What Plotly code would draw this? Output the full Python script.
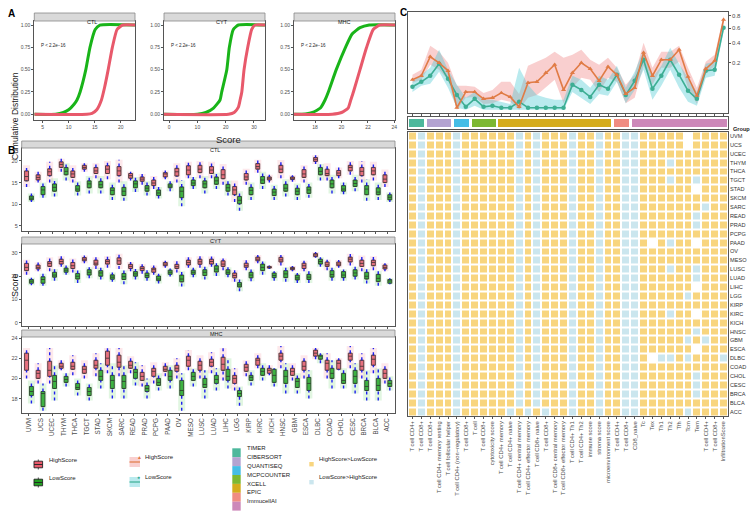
import numpy as np
import plotly.graph_objects as go

W, H = 750, 518

CANCERS = ["UVM", "UCS", "UCEC", "THYM", "THCA", "TGCT", "STAD", "SKCM", "SARC", "READ",
           "PRAD", "PCPG", "PAAD", "OV", "MESO", "LUSC", "LUAD", "LIHC", "LGG", "KIRP",
           "KIRC", "KICH", "HNSC", "GBM", "ESCA", "DLBC", "COAD", "CHOL", "CESC", "BRCA",
           "BLCA", "ACC"]

# ---- panel A: cumulative distributions
CTL_LOW_X = [3.4, 7.5, 9.0, 10.0, 11.0, 11.6, 12.2, 13.3, 14.1, 15.1, 16.0, 22.75]
CTL_LOW_F = [0, 0, 0.02, 0.05, 0.11, 0.16, 0.25, 0.5, 0.75, 0.95, 1, 1]
CTL_HIGH_X = [3.4, 13.5, 14.5, 15.4, 16.3, 16.9, 17.6, 18.4, 19.3, 20.4, 22.75]
CTL_HIGH_F = [0, 0, 0.01, 0.05, 0.16, 0.3, 0.5, 0.75, 0.95, 1, 1]
CYT_LOW_X = [-1.8, 10, 13, 15.7, 18.0, 18.6, 20.4, 21.3, 22.7, 24.5, 33.9]
CYT_LOW_F = [0, 0, 0.02, 0.07, 0.16, 0.25, 0.5, 0.75, 0.95, 1, 1]
CYT_HIGH_X = [-1.8, 21.0, 23.0, 24.5, 25.1, 25.7, 26.5, 27.8, 29.2, 30.4, 33.9]
CYT_HIGH_F = [0, 0, 0.02, 0.08, 0.16, 0.25, 0.5, 0.75, 0.95, 1, 1]
MHC_LOW_X = [16.4, 17.0, 17.8, 18.4, 18.75, 19.0, 19.6, 20.3, 20.8, 21.4, 22.1, 24.05]
MHC_LOW_F = [0, 0, 0.02, 0.07, 0.16, 0.25, 0.5, 0.75, 0.9, 0.97, 1, 1]
MHC_HIGH_X = [16.4, 19.3, 20.0, 20.5, 20.7, 20.9, 21.4, 21.9, 22.4, 22.9, 24.05]
MHC_HIGH_F = [0, 0, 0.02, 0.07, 0.16, 0.25, 0.5, 0.75, 0.95, 1, 1]

# ---- panel B: box statistics per cancer (lo whisker, q1, median, q3, hi whisker)
CTL_H_LO = [14.0, 15.0, 15.0, 17.5, 15.0, 17.5, 16.0, 15.8, 15.0, 15.5, 14.5, 13.5, 15.8, 15.0, 16.0, 16.0, 16.0, 14.5, 10.5, 14.5, 17.3, 15.0, 16.0, 15.2, 15.0, 19.3, 15.5, 16.0, 16.8, 15.0, 15.5, 14.0]
CTL_H_Q1 = [15.4, 15.6, 16.6, 18.5, 16.2, 18.1, 17.1, 17.1, 16.6, 16.0, 15.3, 14.3, 16.3, 16.5, 16.8, 17.3, 17.1, 15.9, 12.2, 15.6, 18.1, 15.6, 17.3, 15.7, 16.2, 19.9, 16.6, 16.6, 17.7, 16.6, 16.8, 15.0]
CTL_H_MED = [16.4, 16.2, 17.5, 19.2, 17.0, 18.5, 17.7, 18.1, 17.7, 16.6, 15.8, 14.9, 17.0, 17.5, 17.9, 18.1, 17.9, 16.8, 13.3, 16.3, 18.7, 16.0, 18.1, 16.0, 17.0, 20.4, 17.1, 17.2, 18.5, 17.6, 17.7, 15.8]
CTL_H_Q3 = [17.7, 16.8, 18.2, 19.8, 17.7, 19.0, 18.5, 18.9, 18.7, 17.1, 16.3, 15.6, 17.3, 18.3, 18.9, 19.0, 18.7, 18.0, 14.1, 17.1, 19.4, 16.3, 19.0, 16.3, 18.0, 20.8, 18.1, 17.8, 19.0, 18.5, 18.5, 16.8]
CTL_H_HI = [19.0, 17.5, 19.8, 20.5, 19.0, 19.5, 19.5, 20.0, 20.3, 17.5, 17.0, 16.5, 17.8, 19.5, 19.8, 20.0, 19.8, 19.3, 15.5, 18.2, 20.3, 16.8, 20.2, 16.7, 19.0, 21.3, 19.5, 18.5, 20.0, 20.0, 19.8, 18.0]
CTL_L_LO = [10.5, 11.5, 11.8, 15.5, 12.0, 12.5, 12.5, 11.0, 10.8, 12.8, 12.0, 11.3, 13.0, 9.5, 13.5, 12.5, 13.5, 12.0, 8.5, 11.0, 13.5, 11.0, 11.8, 11.0, 11.5, 15.5, 12.5, 12.3, 13.0, 10.8, 11.0, 10.5]
CTL_L_Q1 = [11.0, 12.2, 13.0, 16.8, 13.0, 13.8, 13.8, 12.2, 12.0, 13.8, 13.0, 12.0, 13.8, 11.5, 14.3, 13.8, 14.6, 13.0, 10.1, 12.2, 14.8, 12.0, 13.0, 12.2, 12.5, 16.8, 13.8, 13.0, 14.1, 12.2, 12.2, 11.0]
CTL_L_MED = [11.4, 13.3, 13.9, 17.6, 13.5, 14.7, 14.5, 13.2, 13.0, 14.7, 13.7, 12.6, 14.2, 13.0, 14.9, 14.7, 15.4, 13.8, 10.9, 13.2, 15.6, 12.8, 13.7, 13.0, 13.3, 17.6, 14.7, 13.5, 14.8, 13.5, 12.8, 11.6]
CTL_L_Q3 = [11.9, 14.1, 14.7, 18.5, 14.3, 15.4, 15.3, 13.8, 13.9, 15.4, 14.3, 13.3, 14.7, 14.0, 15.6, 15.4, 16.3, 14.6, 11.8, 13.9, 16.4, 13.5, 14.6, 13.7, 14.0, 18.5, 15.6, 14.3, 15.6, 14.3, 13.8, 12.2]
CTL_L_HI = [12.5, 15.0, 16.0, 19.5, 15.3, 16.5, 16.5, 15.0, 15.3, 16.3, 15.3, 14.0, 15.3, 15.5, 16.3, 16.5, 17.3, 15.5, 13.0, 15.0, 17.5, 14.5, 15.8, 14.8, 15.0, 19.3, 16.8, 15.0, 16.8, 15.8, 15.0, 12.7]

CYT_H_LO = [20.5, 22.0, 22.0, 24.0, 21.5, 25.5, 23.0, 23.5, 23.0, 22.0, 21.0, 20.5, 23.5, 21.5, 23.5, 23.5, 24.0, 22.5, 17.5, 22.5, 25.5, 23.0, 24.5, 22.0, 22.0, 27.8, 22.5, 23.5, 24.5, 22.0, 22.5, 22.0]
CYT_H_Q1 = [22.3, 23.0, 24.1, 25.1, 23.2, 26.5, 24.7, 25.1, 25.0, 23.2, 22.3, 21.6, 24.4, 23.2, 24.7, 25.0, 25.1, 24.1, 19.2, 23.7, 26.5, 23.4, 26.0, 22.7, 23.2, 28.3, 24.1, 24.4, 26.0, 24.1, 24.4, 23.0]
CYT_H_MED = [23.7, 23.7, 25.4, 26.2, 24.4, 27.2, 25.5, 26.2, 26.5, 24.1, 23.2, 22.7, 25.1, 24.0, 25.8, 26.1, 26.2, 25.1, 20.2, 24.4, 27.2, 23.7, 26.9, 23.2, 24.4, 29.0, 24.8, 25.1, 27.2, 25.4, 25.8, 23.7]
CYT_H_Q3 = [25.4, 24.7, 26.2, 27.2, 25.8, 27.9, 26.8, 27.0, 27.8, 25.0, 24.0, 23.4, 25.8, 25.0, 26.8, 27.2, 27.2, 26.5, 21.3, 25.5, 28.1, 24.1, 28.0, 23.7, 25.5, 29.6, 26.0, 26.0, 28.1, 26.8, 26.8, 24.7]
CYT_H_HI = [27.0, 25.8, 28.0, 28.5, 27.5, 28.8, 28.0, 28.5, 29.5, 26.0, 25.0, 24.5, 26.5, 26.5, 28.0, 28.5, 28.3, 27.5, 22.5, 26.8, 29.0, 24.5, 29.0, 24.3, 26.5, 30.3, 27.0, 26.8, 29.5, 28.8, 28.5, 25.5]
CYT_L_LO = [16.0, 15.8, 18.0, 20.5, 17.0, 19.0, 18.5, 17.5, 16.5, 18.5, 18.0, 16.8, 19.8, 15.5, 19.5, 18.5, 20.0, 19.5, 13.5, 17.8, 20.5, 18.0, 17.5, 17.0, 17.0, 24.0, 18.0, 18.0, 18.5, 16.8, 15.8, 16.5]
CYT_L_Q1 = [16.9, 16.9, 19.5, 21.6, 18.7, 20.4, 19.9, 18.6, 18.5, 19.9, 19.3, 18.0, 20.7, 17.5, 20.7, 20.2, 21.7, 20.7, 15.3, 19.2, 22.3, 19.3, 19.3, 18.3, 18.5, 25.1, 19.5, 19.3, 19.9, 18.7, 17.6, 16.9]
CYT_L_MED = [17.8, 18.5, 20.4, 22.5, 19.9, 21.6, 21.3, 19.5, 19.7, 20.9, 20.2, 18.7, 21.6, 18.7, 21.6, 21.6, 23.0, 21.6, 16.2, 20.4, 23.7, 20.2, 20.9, 19.2, 19.5, 26.2, 20.6, 20.4, 21.3, 19.9, 19.0, 17.9]
CYT_L_Q3 = [18.5, 19.7, 21.6, 23.4, 21.1, 22.7, 22.3, 20.5, 21.1, 21.9, 21.3, 20.0, 22.5, 20.4, 22.5, 22.7, 24.4, 22.7, 17.2, 21.6, 25.1, 21.3, 22.3, 20.4, 20.7, 27.2, 22.3, 21.9, 22.7, 21.6, 20.7, 18.5]
CYT_L_HI = [19.2, 21.0, 23.0, 24.5, 22.5, 23.8, 23.5, 21.5, 22.5, 23.0, 22.5, 21.0, 23.2, 22.0, 23.5, 24.0, 25.5, 23.8, 18.5, 22.8, 26.2, 22.0, 23.8, 21.3, 22.0, 28.0, 23.5, 22.8, 24.0, 23.0, 22.3, 19.0]

MHC_H_LO = [20.0, 19.5, 19.5, 20.8, 20.3, 20.0, 20.2, 20.5, 20.2, 20.5, 19.2, 19.5, 20.2, 20.0, 20.8, 20.0, 20.5, 19.8, 18.8, 20.2, 21.0, 20.3, 21.0, 19.8, 20.0, 21.9, 20.0, 20.8, 21.0, 20.0, 20.5, 19.5]
MHC_H_Q1 = [20.8, 20.0, 20.2, 21.0, 20.9, 20.5, 21.0, 21.3, 21.1, 21.0, 19.8, 20.2, 20.7, 20.7, 21.2, 20.8, 21.2, 20.8, 19.5, 20.7, 21.3, 20.5, 21.8, 20.3, 20.8, 22.2, 20.8, 20.9, 21.8, 20.8, 21.3, 20.0]
MHC_H_MED = [21.8, 20.5, 20.8, 21.2, 21.2, 20.9, 21.3, 22.0, 21.6, 21.3, 20.2, 20.7, 20.9, 21.0, 21.8, 21.3, 21.6, 21.4, 20.0, 21.1, 21.8, 20.8, 22.2, 20.7, 21.2, 22.5, 21.5, 21.5, 22.2, 21.2, 21.9, 20.5]
MHC_H_Q3 = [22.5, 20.8, 21.7, 21.5, 21.6, 21.2, 21.8, 22.7, 22.3, 21.7, 20.6, 21.0, 21.2, 21.3, 22.2, 21.7, 21.9, 22.1, 20.3, 21.4, 22.0, 21.0, 22.5, 21.0, 21.7, 22.8, 21.8, 21.8, 22.5, 21.8, 22.3, 20.9]
MHC_H_HI = [23.0, 21.5, 23.0, 21.8, 22.3, 21.8, 22.5, 23.0, 23.0, 22.2, 21.3, 21.6, 21.6, 22.0, 22.8, 22.3, 22.6, 23.0, 21.0, 21.8, 22.5, 21.3, 23.2, 21.5, 22.3, 23.0, 22.5, 22.0, 23.2, 22.5, 23.0, 21.5]
MHC_L_LO = [17.5, 16.8, 17.8, 19.2, 18.3, 17.8, 19.0, 18.0, 18.0, 19.3, 18.0, 18.8, 19.0, 16.8, 19.2, 18.0, 18.8, 19.0, 17.3, 19.3, 19.8, 19.2, 18.5, 18.5, 18.0, 21.5, 19.0, 19.0, 18.5, 17.8, 17.8, 18.8]
MHC_L_Q1 = [18.3, 17.2, 19.0, 19.6, 18.9, 18.3, 19.8, 19.0, 19.0, 20.0, 18.7, 19.3, 19.8, 18.3, 19.8, 19.1, 19.5, 19.8, 18.2, 19.8, 20.3, 19.6, 19.5, 19.1, 18.8, 21.9, 20.0, 19.5, 19.5, 18.8, 18.8, 19.2]
MHC_L_MED = [18.7, 18.5, 19.7, 19.9, 19.1, 18.7, 20.2, 19.8, 19.7, 20.6, 19.0, 19.6, 20.2, 18.8, 20.2, 19.4, 19.9, 20.2, 18.5, 20.1, 20.7, 20.3, 20.2, 19.7, 19.5, 22.2, 20.5, 19.8, 20.2, 19.2, 19.3, 19.5]
MHC_L_Q3 = [19.2, 18.7, 20.3, 20.2, 19.5, 19.1, 20.8, 20.3, 20.3, 20.9, 19.3, 20.0, 20.8, 19.8, 20.6, 20.0, 20.3, 20.9, 18.8, 20.3, 21.0, 20.9, 20.8, 20.0, 20.1, 22.3, 21.0, 20.5, 20.8, 19.8, 20.0, 19.8]
MHC_L_HI = [19.8, 19.5, 21.3, 20.5, 20.0, 19.5, 21.5, 21.5, 21.3, 21.6, 20.0, 20.5, 21.3, 20.5, 21.0, 20.8, 21.0, 22.0, 19.2, 20.8, 21.5, 21.0, 21.5, 20.5, 20.8, 22.5, 21.8, 21.0, 21.5, 20.8, 21.0, 20.2]

# ---- panel C
CELLS = ["T cell CD4+", "T cell CD8+", "T cell CD8+", "T cell CD4+ memory resting",
         "T cell follicular helper", "T cell CD4+ (non\u2212regulatory)", "T cell CD8+", "T cell",
         "T cell CD8+", "cytotoxicity score", "T cell CD4+ memory", "T cell CD4+ naive",
         "T cell CD4+ central memory", "T cell CD4+ effector memory", "T cell CD8+ naive",
         "T cell CD8+", "T cell CD8+ central memory", "T cell CD8+ effector memory",
         "T cell CD4+ Th1", "T cell CD4+ Th2", "immune score", "stroma score",
         "microenvironment score", "T cell CD4+", "T cell CD8+", "CD8_naive", "Tc", "Tex",
         "Th1", "Th2", "Tfh", "Tcm", "Tem", "T cell CD4+", "T cell CD8+", "InfiltrationScore"]
GROUPS = ["TIMER", "CIBERSORT", "QUANTISEQ", "MCPCOUNTER", "XCELL", "EPIC", "ImmucellAI"]
GROUP_SIZES = [2, 3, 2, 3, 13, 2, 11]
GROUP_COLORS = ["#4DB89C", "#B3A3D1", "#45BDE6", "#7DB832", "#D5AC1C", "#F08C82", "#CD88B9"]

HIGH_MEAN = [.082, .105, .255, .200, .138, .0004, .029, .029, .011, .013, .026, .015, .0008, .066, .071, .124, .184, .036,
             .124, .200, .152, .076, .168, .111, .023, .044, .295, .105, .227, .227, .327, .099, .018, .152, .218, .735]
HIGH_UP = [.111, .145, .372, .305, .200, .052, .052, .048, .026, .036, .071, .071, .023, .176, .209, .245, .305, .245,
           .274, .327, .227, .184, .245, .160, .057, .111, .407, .160, .305, .305, .372, .160, .044, .209, .274, .801]
HIGH_LOW = [.066, .082, .184, .145, .082, 0, .013, .015, .003, .004, .009, .006, 0, .013, .020, .044, .082, .004,
            .044, .093, .082, .029, .093, .071, .004, .013, .176, .057, .160, .160, .209, .044, .003, .118, .176, .687]
LOW_MEAN = [.048, .071, .105, .192, .087, .020, .0008, .011, .0008, .0015, .0004, .0004, .006, .0004, .0004, .0004, .0004, .0004,
            .057, .036, .015, .057, .040, .111, .020, .076, .227, .040, .105, .227, .111, .033, .011, .138, .145, .610]
LOW_UP = [.071, .111, .160, .327, .145, .057, .013, .029, .009, .009, .006, .003, .160, .057, .020, .013, .009, .009,
          .105, .082, .044, .105, .082, .176, .044, .131, .327, .093, .176, .349, .192, .093, .029, .192, .209, .671]
LOW_LOW = [.029, .052, .061, .131, .044, .0004, 0, .0015, 0, 0, 0, 0, 0, 0, 0, 0, 0, 0,
           .029, .013, .003, .023, .018, .071, .004, .036, .145, .009, .052, .145, .044, .006, .0015, .093, .105, .552]

# H = HighScore>LowScore, L = LowScore>HighScore, N = not available
HEAT_ROWS = [
    "HLHHHLHHHHHHLHLHHHLHHLHHLLH" + "HHHHNHHHH",  # UVM
    "HLHHHLHHHHHHLHLHHHLHHLHHLLH" + "HHHHNHHHH",  # UCS
    "HLHHHLHHHHHHLHLHHHLHHLHHLLH" + "HHHHHHHHH",  # UCEC
    "HLHHHLHHHHHHLHLHHHLHHLHHLLH" + "HHLHHHHHH",  # THYM
    "HLHHHLHHHHHHLHLHHHLHHLHHLLH" + "HHHHHHHHH",  # THCA
    "HLHHHLHHHHHHLHLHHHLHHLHHLLH" + "HHLHHLHHH",  # TGCT
    "HLHHHLHHHHHHLHLHHHLHHLHHLLH" + "HHHHHNHHH",  # STAD
    "HLHHHLHHHHHHLHLHHHLHHLHHLLH" + "HHHHHHHHH",  # SKCM
    "HLHHHLHHHHHHLHLHHHLHHLHHLLH" + "HHHHHHLHH",  # SARC
    "HLHHHLHHHHHHLHLHHHLHHLHHLLH" + "HHHHHLHHH",  # READ
    "HLHHHLHHHHHHLHLHHHLHHLHHLLH" + "HHHHHLHHH",  # PRAD
    "HLHHHLHHHHHHLHLHHHLHHLHHLLH" + "HHHHHHHHH",  # PCPG
    "HLHHHLHHHHHHLHLHHHLHHLHHLLH" + "NHLHHNHHH",  # PAAD
    "HLHHHLHHHHHHLHLHHHLHHLHHLLH" + "HHHHHHHHH",  # OV
    "HLHHHLHHHHHHLHLHHHLHHLHHLLH" + "HHHHHHHHH",  # MESO
    "HLHHHLHHHHHHLHLHHHLHHLHHLLH" + "HHLHHLHHH",  # LUSC
    "HLHHHLHHHHHHLHLHHHLHHLHHLLH" + "HHHHHLHHH",  # LUAD
    "HLHHHLHHHHHHLHLHHHLHHLHHLLH" + "HHHHHNHHH",  # LIHC
    "HLHHHLHHHHHHLHLHHHLHHLHHLLH" + "HHHHLHHHH",  # LGG
    "HLHHHLHHHHHHLHLHHHLHHLHHLLH" + "HHHHHHHHH",  # KIRP
    "HLHHHLHHHHHHLHLHHHLHHLHHLLH" + "HHLHHNHHH",  # KIRC
    "HLHHHLHHHHHHLHLHHHLHHLHHLLH" + "HHHHHHHHH",  # KICH
    "HLHHHLHHHHHHLHLHHHLHHLHHLLH" + "HHHHHLHHH",  # HNSC
    "HLHHHLHHHHHHLHLHHHLHHLHHLLH" + "HHHHLHLHH",  # GBM
    "HLHHHLHHHHHHLHLHHHLHHLHHLLH" + "HHHHHNHHH",  # ESCA
    "HLHHHLHHHHHHLHLHHHLHHLHHLLH" + "NLLHLHHHL",  # DLBC
    "HLHHHLHHHHHHLHLHHHLHHLHHLLH" + "HHHHHHHHH",  # COAD
    "HLHHHLHHHHHHLHLHHHLHHLHHLLH" + "HHHHHLHHH",  # CHOL
    "HLHHHLHHHHHHLHLHHHLHHLHHLLH" + "HHHHHLHHH",  # CESC
    "HLHHHLHHHHHHLHLHHHLHHLHHLLH" + "HHHHHLHHH",  # BRCA
    "HLHHHLHHHHHHLHLHHHLHHLHHLLH" + "HHHHHHHHH",  # BLCA
    "HLHHHLHHHHHLHLHLHHLHHLHHLLH" + "HHHHLHHHH",  # ACC
]

RED = "#E8596B"
GREEN = "#19B419"
ORANGE = "#E07B45"
TEAL = "#3DAE94"
YELLOW = "#F8D57E"
LIGHTBLUE = "#CBE6EE"
FONT = "Liberation Sans, Arial"


def xd(a, b):
    return [a / W, b / W]


def yd(top, bottom):
    return [1 - bottom / H, 1 - top / H]


def px(x):
    return x / W


def py(y):
    return 1 - y / H


def ax(domain, anchor, **kw):
    d = dict(domain=domain, anchor=anchor, showline=True, mirror=True, linecolor="#555",
             linewidth=0.8, ticks="outside", ticklen=2, tickwidth=0.6, tickcolor="#555",
             showgrid=False, zeroline=False, automargin=False,
             tickfont=dict(size=5, color="#4D4D4D"))
    d.update(kw)
    return d


fig = go.Figure()
layout = {}
shapes = []
annotations = []

# ---------------- panel A
A_TOP, A_BOTTOM = 21, 120
a_panels = [
    ("CTL", 34.3, 135, [3.4, 22.75], [5, 10, 15, 20], CTL_LOW_X, CTL_LOW_F, CTL_HIGH_X, CTL_HIGH_F),
    ("CYT", 164, 265, [-1.8, 33.9], [0, 10, 20, 30], CYT_LOW_X, CYT_LOW_F, CYT_HIGH_X, CYT_HIGH_F),
    ("MHC", 294, 395, [16.4, 24.05], [18, 20, 22, 24], MHC_LOW_X, MHC_LOW_F, MHC_HIGH_X, MHC_HIGH_F),
]
for i, (name, x0, x1, xr, xt, lx, lf, hx, hf) in enumerate(a_panels, start=1):
    s = "" if i == 1 else str(i)
    layout["xaxis" + s] = ax(xd(x0, x1), "y" + s, range=xr, tickvals=xt)
    layout["yaxis" + s] = ax(yd(A_TOP, A_BOTTOM), "x" + s, range=[-0.064, 1.045],
                             tickvals=[0, 0.25, 0.5, 0.75, 1],
                             ticktext=["0.00", "0.25", "0.50", "0.75", "1.00"])
    for xs, fs, col in [(lx, lf, GREEN), (hx, hf, RED)]:
        fig.add_trace(go.Scatter(x=xs, y=fs, mode="lines", xaxis="x" + s, yaxis="y" + s,
                                 line=dict(color=col, width=3, shape="spline", smoothing=0.5),
                                 hoverinfo="skip", showlegend=False))
    shapes.append(dict(type="rect", xref="paper", yref="paper", x0=px(x0), x1=px(x1),
                       y0=py(A_TOP), y1=py(13), fillcolor="#D9D9D9", line=dict(color="#888", width=0.8)))
    annotations.append(dict(x=px((x0 + x1) / 2), y=py(17), xref="paper", yref="paper", text=name,
                            showarrow=False, font=dict(size=5.5, color="#1A1A1A")))
    annotations.append(dict(x=px(x0 + 4.5), y=py(41), xref="paper", yref="paper", text="P < 2.2e\u221216",
                            showarrow=False, xanchor="left", font=dict(size=4.5, color="#222")))

annotations.append(dict(x=px(8), y=py(70), xref="paper", yref="paper", text="Cumulative Distribution",
                        textangle=-90, showarrow=False, font=dict(size=8.5, color="#222")))
annotations.append(dict(x=px(214), y=py(132), xref="paper", yref="paper", text="Score",
                        showarrow=False, font=dict(size=9.5, color="#222")))

# ---------------- panel B
b_panels = [
    ("CTL", 4, 141, 148, 231, [3.8, 23.0], [5, 10, 15, 20],
     (CTL_H_LO, CTL_H_Q1, CTL_H_MED, CTL_H_Q3, CTL_H_HI), (CTL_L_LO, CTL_L_Q1, CTL_L_MED, CTL_L_Q3, CTL_L_HI)),
    ("CYT", 5, 237, 244, 326, [-1.4, 33.7], [0, 10, 20, 30],
     (CYT_H_LO, CYT_H_Q1, CYT_H_MED, CYT_H_Q3, CYT_H_HI), (CYT_L_LO, CYT_L_Q1, CYT_L_MED, CYT_L_Q3, CYT_L_HI)),
    ("MHC", 6, 330, 337, 412.7, [16.6, 24.1], [18, 20, 22, 24],
     (MHC_H_LO, MHC_H_Q1, MHC_H_MED, MHC_H_Q3, MHC_H_HI), (MHC_L_LO, MHC_L_Q1, MHC_L_MED, MHC_L_Q3, MHC_L_HI)),
]
idx = np.arange(len(CANCERS))
for name, n, stop, top, bottom, yr, yt, hstats, lstats in b_panels:
    s = str(n)
    xkw = dict(range=[-0.63, 31.66], tickvals=list(idx), showticklabels=False)
    if name == "MHC":
        xkw.update(ticktext=CANCERS, showticklabels=True, tickangle=-90,
                   tickfont=dict(size=6.3, color="#4D4D4D"))
    layout["xaxis" + s] = ax(xd(21.7, 395), "y" + s, **xkw)
    layout["yaxis" + s] = ax(yd(top, bottom), "x" + s, range=yr, tickvals=yt,
                             tickfont=dict(size=5.5, color="#4D4D4D"))
    for stats, off, fill, cloud in [(hstats, -0.21, "rgba(226,98,112,0.9)", "rgba(240,110,130,0.16)"),
                                     (lstats, 0.21, "rgba(40,165,45,0.9)", "rgba(70,200,70,0.16)")]:
        lo, q1, med, q3, hi = stats
        xs = idx + off
        cx, cy, wx, wy = [], [], [], []
        for k in range(len(xs)):
            cx += [xs[k], xs[k], None]
            cy += [lo[k], hi[k], None]
            wx += [xs[k], xs[k], None, xs[k], xs[k], None]
            wy += [lo[k], q1[k], None, q3[k], hi[k], None]
        fig.add_trace(go.Scatter(x=cx, y=cy, mode="lines", line=dict(color=cloud, width=7),
                                 xaxis="x" + s, yaxis="y" + s, hoverinfo="skip", showlegend=False))
        fig.add_trace(go.Scatter(x=wx, y=wy, mode="lines", line=dict(color="#1E1EF0", width=1.4, dash="dot"),
                                 xaxis="x" + s, yaxis="y" + s, hoverinfo="skip", showlegend=False))
        fig.add_trace(go.Box(x=xs, q1=q1, median=med, q3=q3, lowerfence=q1, upperfence=q3,
                             width=0.34, fillcolor=fill, line=dict(color="#2B2B2B", width=0.9),
                             boxpoints=False, xaxis="x" + s, yaxis="y" + s,
                             hoverinfo="skip", showlegend=False))
    shapes.append(dict(type="rect", xref="paper", yref="paper", x0=px(21.7), x1=px(395),
                       y0=py(top), y1=py(stop), fillcolor="#D9D9D9", line=dict(color="#888", width=0.8)))
    annotations.append(dict(x=px(208), y=py((top + stop) / 2), xref="paper", yref="paper", text=name,
                            showarrow=False, font=dict(size=5.5, color="#1A1A1A")))

annotations.append(dict(x=px(8), y=py(285), xref="paper", yref="paper", text="Score",
                        textangle=-90, showarrow=False, font=dict(size=9, color="#222")))

# ---------------- panel C: line chart on sqrt scale
cols = np.arange(1, len(CELLS) + 1)
sq = np.sqrt
layout["xaxis7"] = ax(xd(408, 728), "y7", range=[0.5, 36.5], tickvals=list(cols), showticklabels=False)
layout["yaxis7"] = ax(yd(12, 113), "x7", range=[-0.03, 0.93], side="right",
                      tickvals=list(sq([0.2, 0.4, 0.6, 0.8])), ticktext=["0.2", "0.4", "0.6", "0.8"],
                      tickfont=dict(size=6, color="#4D4D4D"))
for up, low, band in [(HIGH_UP, HIGH_LOW, "rgba(240,130,130,0.38)"),
                      (LOW_UP, LOW_LOW, "rgba(70,200,210,0.38)")]:
    fig.add_trace(go.Scatter(x=cols, y=sq(up), mode="lines", line=dict(width=0, color=band),
                             xaxis="x7", yaxis="y7", hoverinfo="skip", showlegend=False))
    fig.add_trace(go.Scatter(x=cols, y=sq(low), mode="lines", line=dict(width=0, color=band),
                             fill="tonexty", fillcolor=band, xaxis="x7", yaxis="y7",
                             hoverinfo="skip", showlegend=False))
for mean, col, sym in [(LOW_MEAN, TEAL, "circle"), (HIGH_MEAN, ORANGE, "triangle-up")]:
    fig.add_trace(go.Scatter(x=cols, y=sq(mean), mode="lines+markers", line=dict(width=1.6, color=col),
                             marker=dict(symbol=sym, size=4.5, color=col), xaxis="x7", yaxis="y7",
                             hoverinfo="skip", showlegend=False))

# group bar
layout["xaxis8"] = ax(xd(408, 728), "y8", range=[0.5, 36.5], ticks="", showticklabels=False)
layout["yaxis8"] = ax(yd(117, 129), "x8", range=[0, 1], ticks="", showticklabels=False)
ends = np.cumsum(GROUP_SIZES)
starts = ends - np.array(GROUP_SIZES)
fig.add_trace(go.Bar(x=(starts + ends) / 2 + 0.5, y=[0.7] * len(GROUPS), base=0.15,
                     width=np.array(GROUP_SIZES) - 0.3, marker=dict(color=GROUP_COLORS, line=dict(width=0)),
                     xaxis="x8", yaxis="y8", hoverinfo="skip", showlegend=False))
annotations.append(dict(x=px(730.5), y=py(123.5), xref="paper", yref="paper", text="<b>Group</b>",
                        xanchor="left", showarrow=False, font=dict(size=5.6, color="#222")))

# heatmap
code = {"H": 1, "L": 0, "N": None}
z = [[code[c] for c in row] for row in HEAT_ROWS]
layout["xaxis9"] = ax(xd(408, 728), "y9", range=[0.5, 36.5], tickvals=list(cols), ticktext=CELLS,
                      tickangle=-90, tickfont=dict(size=5.8, color="#4D4D4D"))
layout["yaxis9"] = ax(yd(131.5, 416), "x9", type="category", autorange="reversed", side="right",
                      ticks="", tickfont=dict(size=5.6, color="#333"))
fig.add_trace(go.Heatmap(z=z, x=cols, y=CANCERS, xgap=2, ygap=2, zmin=0, zmax=1,
                         colorscale=[[0, LIGHTBLUE], [0.5, LIGHTBLUE], [0.5, YELLOW], [1, YELLOW]],
                         showscale=False, hoverinfo="skip", xaxis="x9", yaxis="y9"))

# ---------------- legends (bottom)
for yc, fill, label in [(464.5, RED, "HighScore"), (482.5, "#22A022", "LowScore")]:
    shapes.append(dict(type="line", xref="paper", yref="paper", x0=px(38.3), x1=px(38.3),
                       y0=py(yc - 5), y1=py(yc + 5), line=dict(color="#222", width=0.8)))
    shapes.append(dict(type="rect", xref="paper", yref="paper", x0=px(34), x1=px(42.6),
                       y0=py(yc + 3.3), y1=py(yc - 3.3), fillcolor=fill, line=dict(color="#222", width=0.9)))
    shapes.append(dict(type="line", xref="paper", yref="paper", x0=px(34), x1=px(42.6),
                       y0=py(yc), y1=py(yc), line=dict(color="#222", width=0.9)))
    annotations.append(dict(x=px(46.5), y=py(yc), xref="paper", yref="paper", text=label, xanchor="left",
                            showarrow=False, font=dict(size=6, color="#222")))

for yc, band, col, glyph, label in [(462, "rgba(240,130,130,0.38)", ORANGE, "\u25B2", "HighScore"),
                                    (482, "rgba(70,200,210,0.38)", TEAL, "\u25CF", "LowScore")]:
    shapes.append(dict(type="rect", xref="paper", yref="paper", x0=px(129.5), x1=px(140),
                       y0=py(yc + 5), y1=py(yc - 5), fillcolor=band, line=dict(width=0)))
    shapes.append(dict(type="line", xref="paper", yref="paper", x0=px(129.5), x1=px(140),
                       y0=py(yc), y1=py(yc), line=dict(color=col, width=1.2)))
    annotations.append(dict(x=px(134.8), y=py(yc), xref="paper", yref="paper", text=glyph,
                            showarrow=False, font=dict(size=5, color=col)))
    annotations.append(dict(x=px(143.3), y=py(yc), xref="paper", yref="paper", text=label, xanchor="left",
                            showarrow=False, font=dict(size=6, color="#222")))

for k, (g, c) in enumerate(zip(GROUPS, GROUP_COLORS)):
    y0 = 448.3 + 8.9 * k
    shapes.append(dict(type="rect", xref="paper", yref="paper", x0=px(232.3), x1=px(240.7),
                       y0=py(y0 + 8.9), y1=py(y0), fillcolor=c, line=dict(width=0)))
    annotations.append(dict(x=px(245), y=py(y0 + 4.6), xref="paper", yref="paper", text=g, xanchor="left",
                            showarrow=False, font=dict(size=6, color="#222")))

for yc, c, label in [(464.2, YELLOW, "HighScore>LowScore"), (482.2, LIGHTBLUE, "LowScore>HighScore")]:
    shapes.append(dict(type="rect", xref="paper", yref="paper", x0=px(309.3), x1=px(313.7),
                       y0=py(yc + 2.2), y1=py(yc - 2.2), fillcolor=c, line=dict(width=0)))
    annotations.append(dict(x=px(316.5), y=py(yc), xref="paper", yref="paper", text=label, xanchor="left",
                            showarrow=False, font=dict(size=6, color="#222")))

# panel letters
for letter, x, y in [("A", 6, 6), ("B", 6, 143), ("C", 404, 5)]:
    annotations.append(dict(x=px(x), y=py(y), xref="paper", yref="paper", text="<b>%s</b>" % letter,
                            showarrow=False, font=dict(size=10, color="#000")))

fig.update_layout(width=W, height=H, margin=dict(l=0, r=0, t=0, b=0), paper_bgcolor="white",
                  plot_bgcolor="white", showlegend=False, shapes=shapes, annotations=annotations,
                  font=dict(family=FONT, size=6, color="#333"), bargap=0, **layout)

# the page's default body margin would push the figure 8px in and add scrollbars
fig.write_html("out.html", config={"displayModeBar": False},
               post_script="document.body.style.margin='0';document.body.style.overflow='hidden';")
